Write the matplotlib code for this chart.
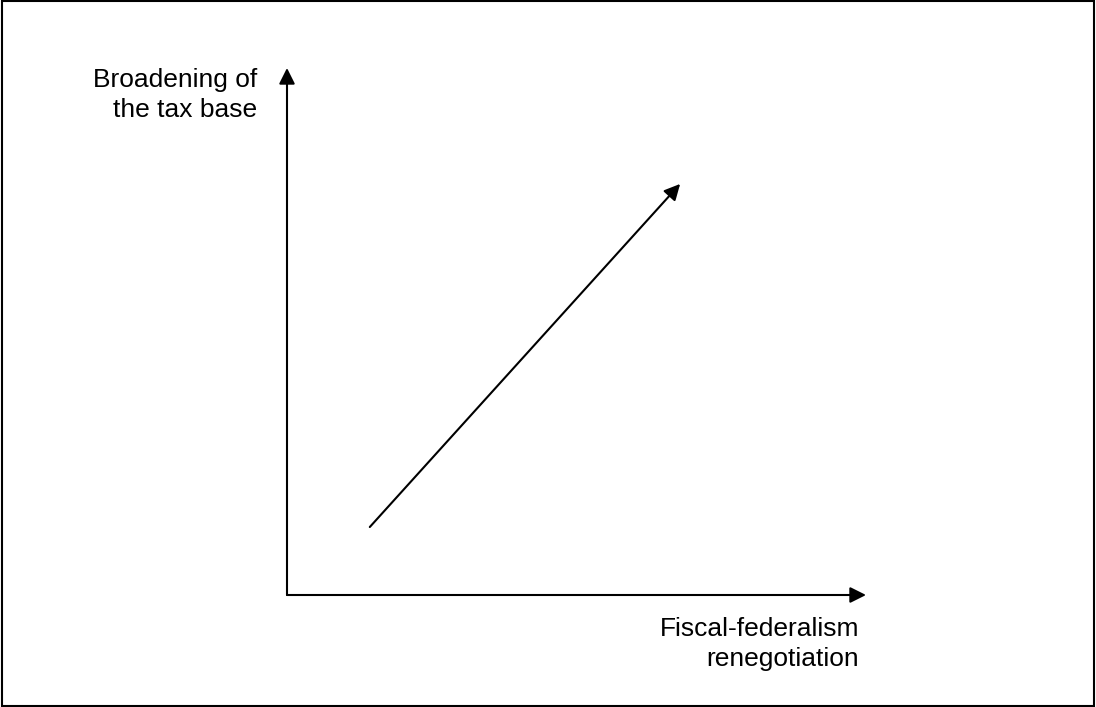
import matplotlib.pyplot as plt
from matplotlib.patches import Rectangle

plt.rcParams['font.family'] = ['Liberation Sans', 'DejaVu Sans']

# axis extents (relative units)
x_axis = [0.0, 1.0]
y_axis = [0.0, 1.0]
# diagonal arrow: start and end points
trend_x = [0.143, 0.679]
trend_y = [0.129, 0.780]

x_label = "Fiscal-federalism\nrenegotiation"
y_label = "Broadening of\nthe tax base"

fig = plt.figure(figsize=(10.96, 7.07), dpi=100)
ax = fig.add_axes([287 / 1096, 112 / 707, 579 / 1096, 527 / 707])
ax.set_xlim(0, 1)
ax.set_ylim(0, 1)
ax.axis('off')

arrow = dict(arrowstyle='-|>', color='black', lw=1.5, mutation_scale=24,
             shrinkA=0, shrinkB=0)
ax.annotate('', xy=(x_axis[1], 0), xytext=(x_axis[0], 0), arrowprops=arrow,
            annotation_clip=False)
ax.annotate('', xy=(0, y_axis[1]), xytext=(0, y_axis[0]), arrowprops=arrow,
            annotation_clip=False)
ax.annotate('', xy=(trend_x[1], trend_y[1]), xytext=(trend_x[0], trend_y[0]),
            arrowprops=arrow, annotation_clip=False)

fig.text(257 / 1096, 1 - 68 / 707, y_label, ha='right', va='top',
         fontsize=19, linespacing=1.32)
fig.text(859 / 1096, 1 - 617 / 707, x_label, ha='right', va='top',
         fontsize=19, linespacing=1.3)

# outer frame
fig.patches.append(Rectangle((0.002, 0.002), 0.996, 0.996, transform=fig.transFigure,
                             fill=False, edgecolor='black', lw=1.5))

fig.savefig('out.png', dpi=100)
